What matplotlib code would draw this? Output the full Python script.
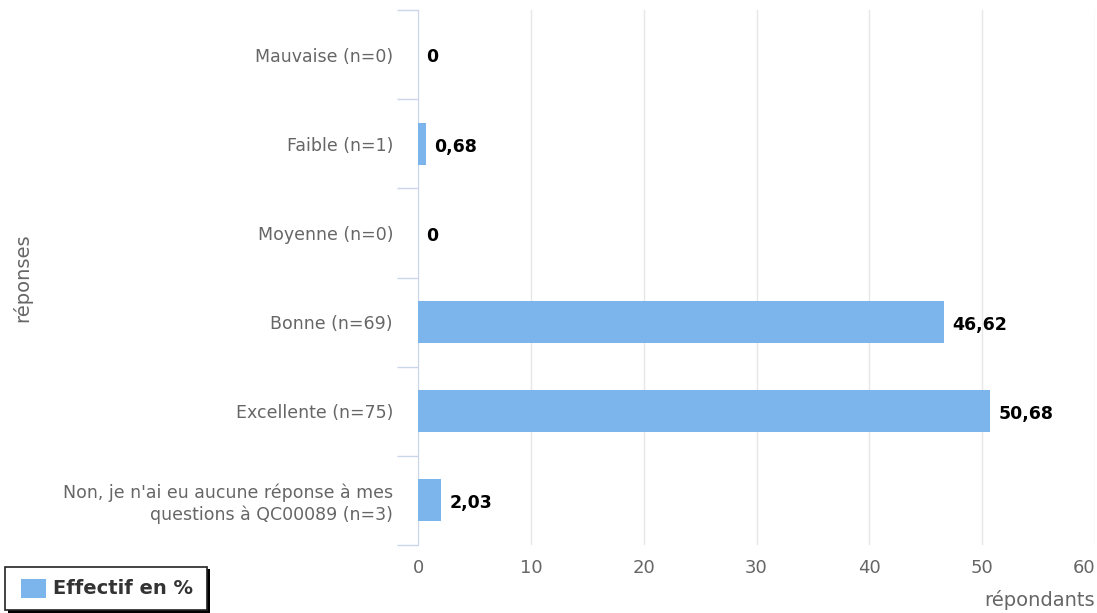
import matplotlib.pyplot as plt
from matplotlib.patches import Rectangle

plt.rcParams["font.family"] = ["DejaVu Sans"]

categories = [
    "Mauvaise (n=0)",
    "Faible (n=1)",
    "Moyenne (n=0)",
    "Bonne (n=69)",
    "Excellente (n=75)",
    "Non, je n'ai eu aucune réponse à mes\nquestions à QC00089 (n=3)",
]
values = [0, 0.68, 0, 46.62, 50.68, 2.03]
value_labels = ["0", "0,68", "0", "46,62", "50,68", "2,03"]
x_ticks = [0, 10, 20, 30, 40, 50, 60]

BAR_COLOR = "#7cb5ec"
AXIS_COLOR = "#ccd6eb"
GRID_COLOR = "#e6e6e6"
TEXT_COLOR = "#666666"

fig = plt.figure(figsize=(10.97, 6.13), dpi=100)
ax = fig.add_axes([418 / 1097, 1 - 545 / 613, (1095 - 418) / 1097, (545 - 10) / 613])

y = list(range(len(categories)))
ax.barh(y, values, height=0.47, color=BAR_COLOR, zorder=3)
for yi, v, lab in zip(y, values, value_labels):
    ax.annotate(lab, (v, yi), xytext=(6, -2), textcoords="offset points",
                va="center", ha="left", fontsize=12.5, fontweight="bold",
                color="black", zorder=4)

ax.set_xlim(0, 60)
ax.set_ylim(len(categories) - 0.5, -0.5)
ax.set_xticks(x_ticks)
ax.set_xticklabels([str(t) for t in x_ticks], fontsize=13, color=TEXT_COLOR)
ax.get_xticklabels()[-1].set_ha("right")
ax.tick_params(axis="x", length=0, pad=10)
ax.xaxis.grid(True, color=GRID_COLOR, linewidth=1, zorder=0)

ax.set_yticks(y)
ax.set_yticklabels(categories, fontsize=12.5, color=TEXT_COLOR)
ax.tick_params(axis="y", length=0, pad=18)
ax.set_yticks([i - 0.5 for i in range(len(categories) + 1)], minor=True)
ax.tick_params(axis="y", which="minor", length=15, color=AXIS_COLOR, width=1)

for side in ["top", "right", "bottom"]:
    ax.spines[side].set_visible(False)
ax.spines["left"].set_color(AXIS_COLOR)

fig.text(1095 / 1097, 1 - 600 / 613, "répondants", ha="right", va="center",
         fontsize=14, color=TEXT_COLOR)
fig.text(22 / 1097, 1 - 278 / 613, "réponses", ha="center", va="center",
         rotation=90, fontsize=14, color=TEXT_COLOR)

# legend box with shadow
fig.patches.append(Rectangle((8 / 1097, 1 - 613 / 613), 202 / 1097, 44 / 613,
                             transform=fig.transFigure, facecolor="black",
                             edgecolor="none"))
fig.patches.append(Rectangle((5 / 1097, 1 - 610 / 613), 202 / 1097, 43 / 613,
                             transform=fig.transFigure, facecolor="white",
                             edgecolor="#222222", linewidth=1.2))
fig.patches.append(Rectangle((21 / 1097, 1 - 598 / 613), 25 / 1097, 19 / 613,
                             transform=fig.transFigure, facecolor=BAR_COLOR,
                             edgecolor="none"))
fig.text(53 / 1097, 1 - 589 / 613, "Effectif en %", ha="left", va="center",
         fontsize=14, fontweight="bold", color="#333333")

fig.savefig("out.png", dpi=100)
